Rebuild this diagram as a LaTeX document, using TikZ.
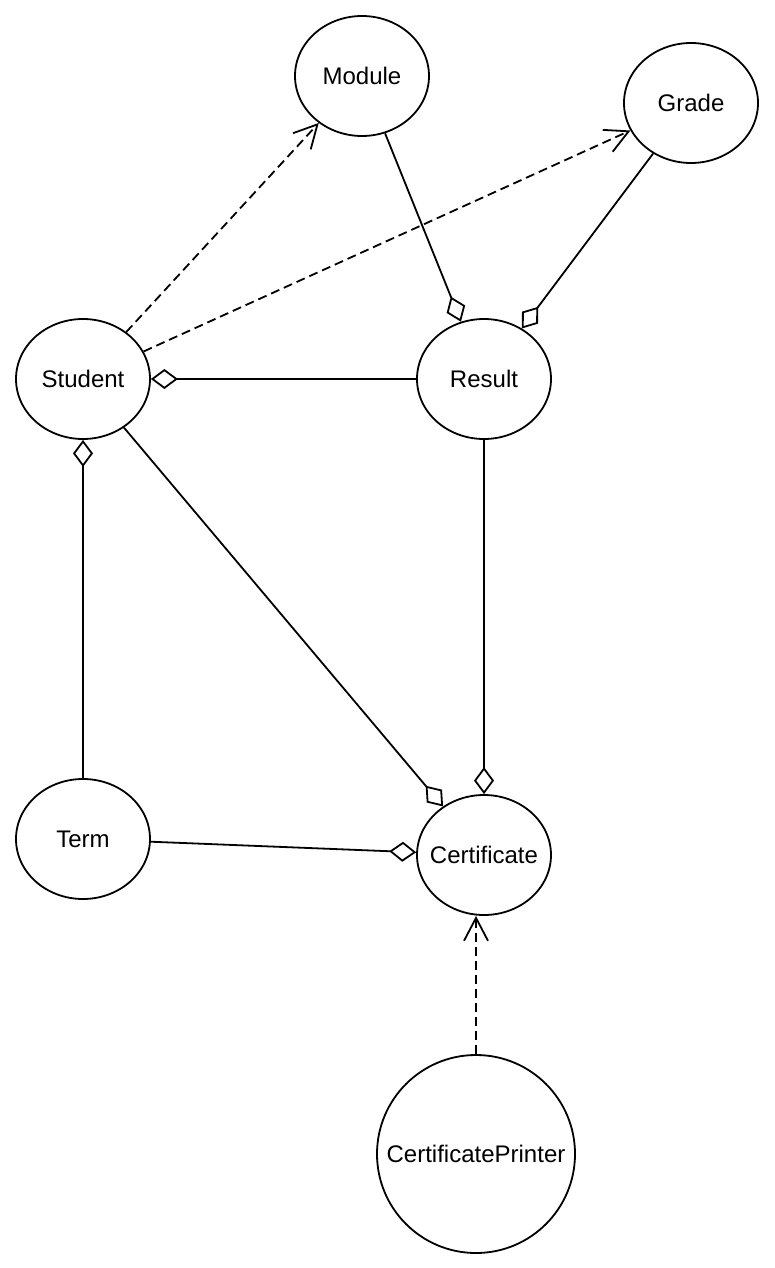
\documentclass[tikz,border=0pt]{standalone}
\usepackage{fontspec}
\setmainfont{Liberation Sans}
\usetikzlibrary{shapes.geometric,arrows.meta}
\tikzset{
  cls/.style={draw, ellipse, line width=1.8pt, minimum width=134pt, minimum height=120pt,
    inner xsep=-15pt, inner ysep=0pt, font=\fontsize{24}{28}\selectfont},
  agg/.style={line width=1.8pt, {Diamond[open,length=27pt,width=20pt]}-},
  dep/.style={line width=1.8pt, dash pattern=on 9pt off 5pt,
    -{Straight Barb[length=23pt,width=24pt]}}
}
\begin{document}
\begin{tikzpicture}[x=1pt,y=-1pt]
  \useasboundingbox (0,0) rectangle (774,1268);
  % classes
  \node[cls] (module) at (362,76) {Module};
  \node[cls] (grade) at (691,103) {Grade};
  \node[cls] (student) at (83,379) {Student};
  \node[cls] (result) at (484,379) {Result};
  \node[cls] (term) at (83,839) {Term};
  \node[cls] (certificate) at (484,855) {Certificate};
  \node[cls, circle, minimum size=198pt] (printer) at (476,1154) {CertificatePrinter};
  % dependencies
  \draw[dep] (student) -- (module);
  \draw[dep] (student) -- (grade);
  \draw[dep] (printer.north) -- (printer.north |- certificate.south);
  % aggregations
  \draw[agg] (result) -- (module);
  \draw[agg] (result) -- (grade);
  \draw[agg] (student) -- (result);
  \draw[agg] (student) -- (term);
  \draw[agg] (certificate) -- (student);
  \draw[agg] (certificate) -- (result);
  \draw[agg] (certificate) -- (term);
\end{tikzpicture}
\end{document}
